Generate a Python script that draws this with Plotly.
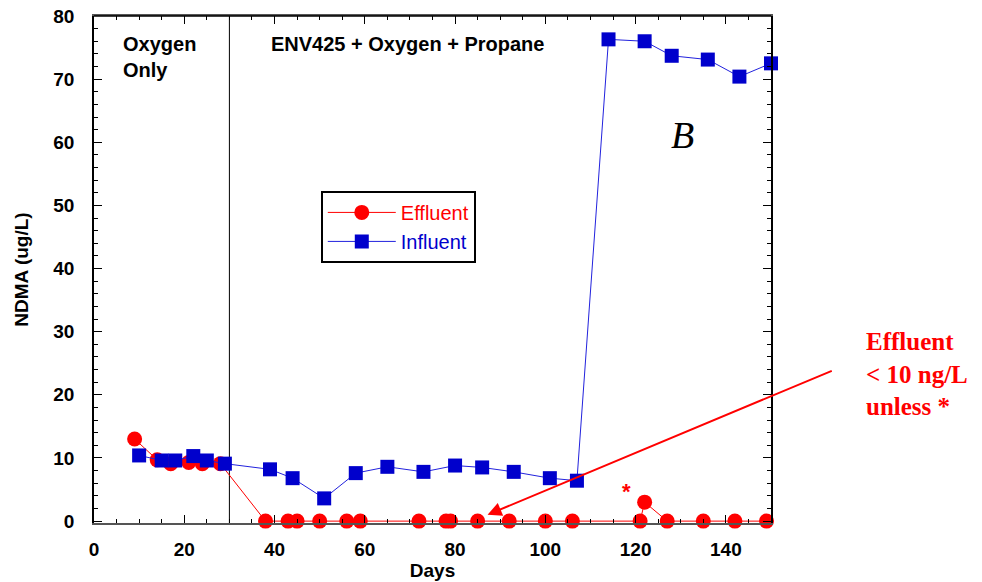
import plotly.graph_objects as go

# ---- data ----
eff_days = [9, 14, 17, 21, 24, 28, 38, 43, 45, 50, 56, 59, 72, 78, 79, 85, 92, 100, 106, 121, 122, 127, 135, 142, 149]
eff_ndma = [13.0, 9.7, 9.1, 9.3, 9.1, 9.1, 0, 0, 0, 0, 0, 0, 0, 0, 0, 0, 0, 0, 0, 0, 3.0, 0, 0, 0, 0]

inf_days = [10, 15, 18, 22, 25, 29, 39, 44, 51, 58, 65, 73, 80, 86, 93, 101, 107, 114, 122, 128, 136, 143, 150]
inf_ndma = [10.4, 9.6, 9.6, 10.3, 9.6, 9.1, 8.2, 6.8, 3.6, 7.6, 8.6, 7.8, 8.8, 8.5, 7.8, 6.8, 6.4,
            76.3, 76.0, 73.7, 73.1, 70.4, 72.5]

x_ticks = [0, 20, 40, 60, 80, 100, 120, 140]
y_ticks = [0, 10, 20, 30, 40, 50, 60, 70, 80]
phase_change_day = 30

SANS = "Liberation Sans, Arial, Helvetica, sans-serif"
SERIF = "Liberation Serif, Times New Roman, serif"

fig = go.Figure()
fig.add_trace(go.Scatter(
    x=eff_days, y=eff_ndma, name="<span style='color:#ff0000'>Effluent</span>", mode="lines+markers",
    line=dict(color="#ff0000", width=1),
    marker=dict(symbol="circle", size=15, color="#ff0000"),
    cliponaxis=False,
))
fig.add_trace(go.Scatter(
    x=inf_days, y=inf_ndma, name="<span style='color:#0000cc'>Influent</span>", mode="lines+markers",
    line=dict(color="#2222dd", width=1),
    marker=dict(symbol="square", size=14, color="#0000cc"),
    cliponaxis=False,
))

# vertical phase divider
fig.add_shape(type="line", xref="x", yref="paper", x0=phase_change_day, x1=phase_change_day,
              y0=0, y1=1, line=dict(color="black", width=1), layer="below")

ann = []
ann.append(dict(text="<b>Oxygen<br>Only</b>", xref="paper", yref="paper", x=0.040, y=0.97,
                xanchor="left", yanchor="top", align="left", showarrow=False,
                font=dict(family=SANS, size=20, color="black")))
ann.append(dict(text="<b>ENV425 + Oxygen + Propane</b>", xref="paper", yref="paper", x=0.259, y=0.97,
                xanchor="left", yanchor="top", align="left", showarrow=False,
                font=dict(family=SANS, size=20, color="black")))
ann.append(dict(text="<i>B</i>", xref="paper", yref="paper", x=0.870, y=0.765,
                xanchor="center", yanchor="middle", showarrow=False,
                font=dict(family=SERIF, size=38, color="black")))
ann.append(dict(text="<b>*</b>", xref="paper", yref="paper", x=0.787, y=0.062,
                xanchor="center", yanchor="middle", showarrow=False,
                font=dict(family=SANS, size=22, color="#ff0000")))
ann.append(dict(text="<b>Effluent<br>&lt; 10 ng/L<br>unless *</b>", xref="paper", yref="paper",
                x=1.138, y=0.388, xanchor="left", yanchor="top", align="left", showarrow=False,
                font=dict(family=SERIF, size=25, color="#ff0000")))
ann.append(dict(text="", x=87.2, y=1.0, xref="x", yref="y", ax=163.8, ay=23.9, axref="x", ayref="y",
                showarrow=True, arrowhead=2, arrowsize=1.4, arrowwidth=2, arrowcolor="#ff0000",
                standoff=0))

fig.update_layout(
    width=982, height=582,
    margin=dict(l=94, r=211, t=16, b=59, autoexpand=False),
    paper_bgcolor="white", plot_bgcolor="white",
    showlegend=True,
    legend=dict(x=0.335, y=0.655, xanchor="left", yanchor="top",
                bgcolor="white", bordercolor="black", borderwidth=2,
                font=dict(family=SANS, size=20, color="black"),
                itemwidth=68, tracegroupgap=0),
    annotations=ann,
)
fig.update_xaxes(
    range=[0, 150], tickvals=x_ticks, ticktext=[str(v) for v in x_ticks],
    ticks="inside", ticklen=8, tickwidth=1, tickcolor="black",
    minor=dict(dtick=5, ticks="inside", ticklen=4, tickcolor="black", showgrid=False),
    showline=True, linecolor="#555555", linewidth=2, mirror="allticks",
    showgrid=False, zeroline=False, automargin=False,
    tickfont=dict(family=SANS, size=19, color="black", weight="bold"),
    ticklabelstandoff=8,
    title=dict(text="Days", font=dict(family=SANS, size=19, color="black", weight="bold"), standoff=5),
)
fig.update_yaxes(
    range=[-0.3, 80], tickvals=y_ticks, ticktext=[str(v) for v in y_ticks],
    ticks="inside", ticklen=8, tickwidth=1, tickcolor="black",
    minor=dict(dtick=2, ticks="inside", ticklen=4, tickcolor="black", showgrid=False),
    showline=True, linecolor="black", linewidth=1.5, mirror="allticks",
    showgrid=False, zeroline=False, automargin=False,
    tickfont=dict(family=SANS, size=19, color="black", weight="bold"),
    ticklabelstandoff=14,
    title=dict(text="NDMA (ug/L)", font=dict(family=SANS, size=19, color="black", weight="bold"), standoff=20),
)
# top border in black
fig.add_shape(type="line", xref="paper", yref="paper", x0=0, x1=1, y0=1, y1=1,
              line=dict(color="black", width=1.5))

fig.write_html("out.html", config={"displayModeBar": False},
               post_script="document.body.style.margin='0px';document.body.style.overflow='hidden';")
